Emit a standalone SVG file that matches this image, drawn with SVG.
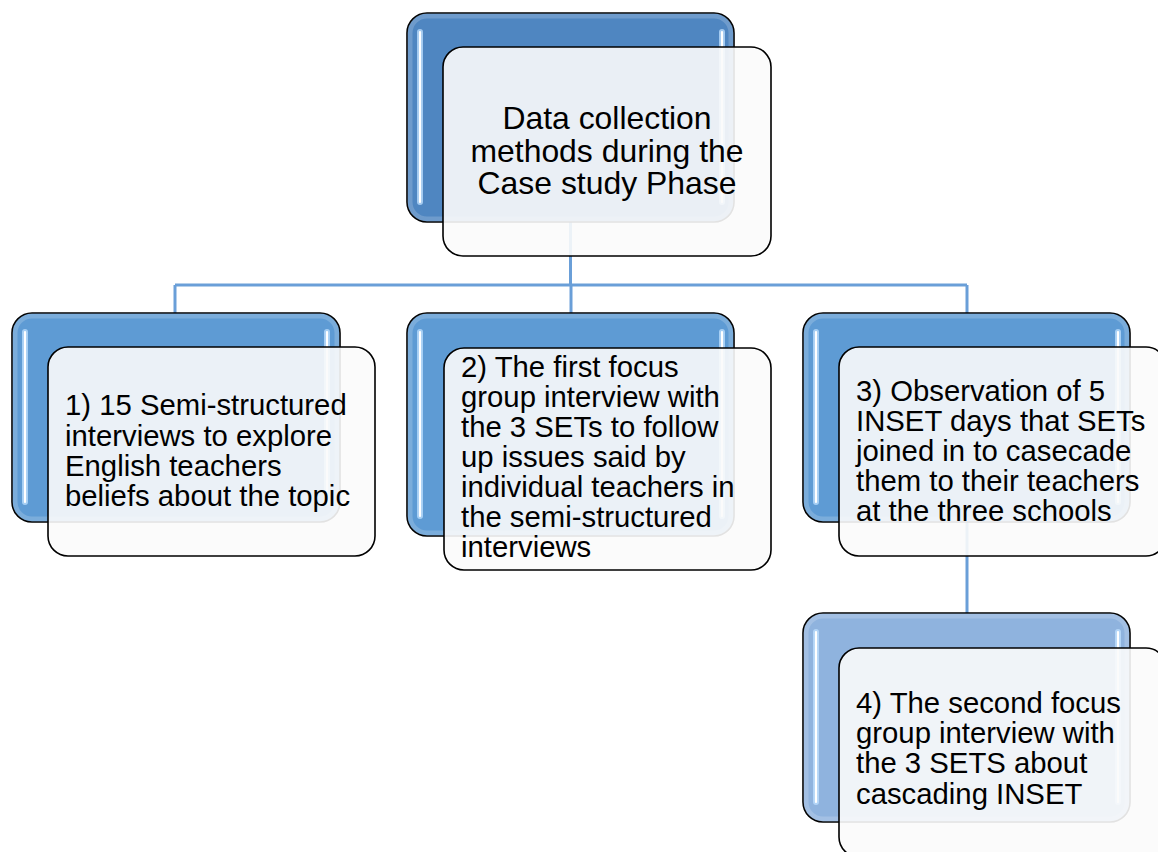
<svg xmlns="http://www.w3.org/2000/svg" width="1158" height="852" viewBox="0 0 1158 852">
  <defs>
    <style>
      .back { stroke: #000; stroke-width: 1.6; }
      .lvl1 { fill: #4f86c1; }
      .lvl2 { fill: #5e9bd4; }
      .lvl3 { fill: #8fb3de; }
      .rim { fill: none; stroke: #ffffff; stroke-opacity: 0.18; stroke-width: 5; }
      .glow { fill: none; stroke: #bfe0ff; stroke-opacity: 0.75; stroke-width: 6; stroke-linecap: round; }
      .shine { fill: none; stroke: #ffffff; stroke-width: 2.2; stroke-linecap: round; }
      .front { fill: #fbfbfb; fill-opacity: 0.9; stroke: #000; stroke-width: 1.6; }
      .label { font-family: "Liberation Sans", Arial, sans-serif; font-size: 29.3px; fill: #000; }
      .title { font-family: "Liberation Sans", Arial, sans-serif; font-size: 31.9px; fill: #000; text-anchor: middle; }
      .link { fill: none; stroke: #6a9fd8; stroke-width: 3; }
    </style>
  </defs>
  <rect width="1158" height="852" fill="#ffffff"/>

  <!-- connectors -->
  <g id="connectors">
    <path class="link" d="M570.5 222 V285"/>
    <path class="link" d="M175 285 H967"/>
    <path class="link" d="M175 285 V313"/>
    <path class="link" d="M571 285 V313"/>
    <path class="link" d="M967 285 V313"/>
    <path class="link" d="M967 522 V613"/>
  </g>

  <!-- root -->
  <g id="node-root">
    <rect class="back lvl1" x="407" y="13" width="327" height="209" rx="20"/>
    <rect class="rim" x="410" y="16" width="321" height="203" rx="17"/>
    <path class="glow" d="M420 32 V202 M722 32 V202"/>
    <path class="shine" d="M420 32 V202 M722 32 V202"/>
    <rect class="front" x="443" y="47" width="328" height="209" rx="20"/>
    <text class="title"><tspan x="607" y="129">Data collection</tspan><tspan x="607" y="161.5">methods during the</tspan><tspan x="607" y="194">Case study Phase</tspan></text>
  </g>

  <!-- 1) interviews -->
  <g id="node-1">
    <rect class="back lvl2" x="12" y="313" width="328" height="209" rx="20"/>
    <rect class="rim" x="15" y="316" width="322" height="203" rx="17"/>
    <path class="glow" d="M25 332 V502 M327 332 V502"/>
    <path class="shine" d="M25 332 V502 M327 332 V502"/>
    <rect class="front" x="48" y="347" width="327" height="209" rx="20"/>
    <text class="label"><tspan x="65" y="415">1) 15 Semi-structured</tspan><tspan x="65" y="445.5">interviews to explore</tspan><tspan x="65" y="475.5">English teachers</tspan><tspan x="65" y="505.5">beliefs about the topic</tspan></text>
  </g>

  <!-- 2) first focus group -->
  <g id="node-2">
    <rect class="back lvl2" x="407" y="313" width="327" height="223" rx="20"/>
    <rect class="rim" x="410" y="316" width="321" height="217" rx="17"/>
    <path class="glow" d="M420 332 V516 M722 332 V516"/>
    <path class="shine" d="M420 332 V516 M722 332 V516"/>
    <rect class="front" x="444" y="348" width="327" height="222" rx="20"/>
    <text class="label"><tspan x="461" y="377">2) The first focus</tspan><tspan x="461" y="407">group interview with</tspan><tspan x="461" y="437">the 3 SETs to follow</tspan><tspan x="461" y="467">up issues said by</tspan><tspan x="461" y="497">individual teachers in</tspan><tspan x="461" y="527">the semi-structured</tspan><tspan x="461" y="557">interviews</tspan></text>
  </g>

  <!-- 3) INSET observation -->
  <g id="node-3">
    <rect class="back lvl2" x="803" y="313" width="327" height="209" rx="20"/>
    <rect class="rim" x="806" y="316" width="321" height="203" rx="17"/>
    <path class="glow" d="M816 332 V502 M1118 332 V502"/>
    <path class="shine" d="M816 332 V502 M1118 332 V502"/>
    <rect class="front" x="839" y="347" width="327" height="209" rx="20"/>
    <text class="label"><tspan x="856" y="400.5">3) Observation of 5</tspan><tspan x="856" y="430.5">INSET days that SETs</tspan><tspan x="856" y="460.5">joined in to casecade</tspan><tspan x="856" y="490.5">them to their teachers</tspan><tspan x="856" y="520.5">at the three schools</tspan></text>
  </g>

  <!-- 4) second focus group -->
  <g id="node-4">
    <rect class="back lvl3" x="803" y="613" width="327" height="209" rx="20"/>
    <rect class="rim" x="806" y="616" width="321" height="203" rx="17"/>
    <path class="glow" d="M816 632 V802 M1118 632 V802"/>
    <path class="shine" d="M816 632 V802 M1118 632 V802"/>
    <rect class="front" x="839" y="648" width="327" height="209" rx="20"/>
    <text class="label"><tspan x="856" y="713">4) The second focus</tspan><tspan x="856" y="743">group interview with</tspan><tspan x="856" y="773">the 3 SETS about</tspan><tspan x="856" y="803.5">cascading INSET</tspan></text>
  </g>
</svg>
